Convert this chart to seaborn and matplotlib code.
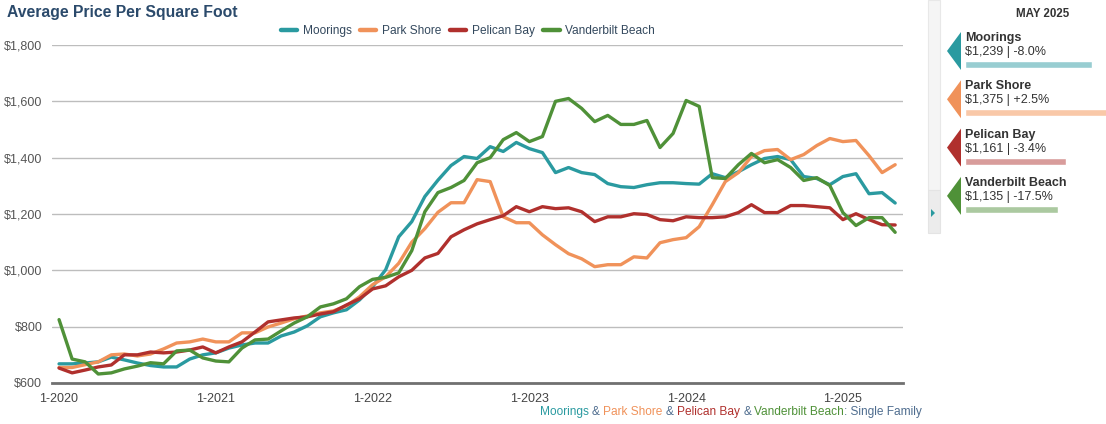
import matplotlib
matplotlib.use("Agg")
import matplotlib.pyplot as plt
from matplotlib.lines import Line2D
from matplotlib.patches import Polygon, Rectangle
import numpy as np
import pandas as pd
import seaborn as sns

# monthly average price per sq ft, Jan 2020 .. May 2025
areas = ["Moorings", "Park Shore", "Pelican Bay", "Vanderbilt Beach"]

moorings = [668, 668, 671, 675, 692, 682, 671, 662, 657, 657, 685, 700,
            707, 724, 735, 742, 742, 767, 781, 803, 835, 849, 860, 895,
            942, 1002, 1119, 1173, 1262, 1320, 1372, 1404, 1397, 1439, 1422, 1454,
            1432, 1418, 1347, 1365, 1347, 1340, 1308, 1297, 1294, 1304, 1311, 1311,
            1308, 1306, 1343, 1329, 1350, 1375, 1397, 1404, 1393, 1333, 1326, 1304,
            1333, 1343, 1272, 1276, 1239]
park_shore = [655, 655, 665, 675, 700, 703, 696, 703, 721, 742, 746, 756,
              746, 746, 778, 778, 799, 813, 828, 838, 849, 856, 874, 906,
              949, 977, 1025, 1100, 1148, 1206, 1240, 1240, 1322, 1315, 1190, 1169,
              1169, 1126, 1091, 1059, 1041, 1013, 1020, 1020, 1048, 1044, 1098, 1109,
              1116, 1155, 1233, 1315, 1347, 1404, 1425, 1429, 1393, 1411, 1443, 1468,
              1457, 1461, 1407, 1347, 1375]
pelican_bay = [653, 636, 646, 657, 664, 700, 700, 710, 707, 710, 717, 728,
               707, 728, 746, 781, 817, 824, 831, 835, 845, 853, 877, 899,
               934, 945, 977, 1000, 1044, 1060, 1119, 1144, 1165, 1180, 1194, 1226,
               1208, 1226, 1219, 1222, 1208, 1173, 1190, 1190, 1201, 1198, 1180, 1176,
               1190, 1187, 1187, 1190, 1205, 1233, 1205, 1205, 1230, 1230, 1226, 1222,
               1180, 1201, 1180, 1162, 1161]
vanderbilt = [825, 685, 675, 632, 636, 650, 660, 672, 668, 714, 717, 689,
              678, 675, 724, 753, 756, 785, 813, 835, 870, 881, 899, 942,
              968, 975, 991, 1070, 1208, 1276, 1294, 1319, 1382, 1400, 1464, 1489,
              1457, 1475, 1600, 1610, 1575, 1528, 1550, 1518, 1518, 1532, 1436, 1486,
              1603, 1582, 1329, 1326, 1375, 1415, 1382, 1393, 1365, 1319, 1329, 1301,
              1205, 1159, 1187, 1187, 1135]

year_ticks = [0, 12, 24, 36, 48, 60]
year_labels = ["1-2020", "1-2021", "1-2022", "1-2023", "1-2024", "1-2025"]
y_ticks = [600, 800, 1000, 1200, 1400, 1600, 1800]

latest_month = "MAY 2025"
latest_change = ["-8.0%", "+2.5%", "-3.4%", "-17.5%"]

colors = ["#2a9aa0", "#f0925a", "#b0302d", "#4f9138"]
light_colors = ["#98cdd1", "#f9c8a8", "#d89c9b", "#abc9a0"]
slate = "#4f6d8f"

series = [moorings, park_shore, pelican_bay, vanderbilt]
df = pd.concat([pd.DataFrame({"month": np.arange(len(s)), "price": s, "area": a})
                for a, s in zip(areas, series)], ignore_index=True)

sns.set_style("white")
plt.rcParams["font.family"] = ["Liberation Sans", "DejaVu Sans"]

W, H = 1106, 424
fig = plt.figure(figsize=(W / 100, H / 100), dpi=100)
ax = fig.add_axes([52 / W, 1 - 383 / H, (903 - 52) / W, (383 - 45) / H])

sns.lineplot(data=df, x="month", y="price", hue="area", hue_order=areas,
             palette=colors, linewidth=2.4, estimator=None, legend=False, ax=ax)

ax.set_xlim(-0.54, 64.6)
ax.set_ylim(600, 1800)
ax.set_yticks(y_ticks)
ax.set_yticklabels(["${:,}".format(v) for v in y_ticks])
ax.set_xticks(year_ticks)
ax.set_xticklabels(year_labels)
ax.set_xlabel("")
ax.set_ylabel("")
ax.grid(axis="y", color="#bdbdbd", linewidth=1.0)
ax.grid(axis="x", visible=False)
ax.set_axisbelow(True)
for side in ["top", "right", "left"]:
    ax.spines[side].set_visible(False)
ax.spines["bottom"].set_color("#707070")
ax.spines["bottom"].set_linewidth(2)
ax.spines["bottom"].set_zorder(5)
ax.tick_params(axis="y", length=0, pad=7, labelsize=9, labelcolor="#555555")
ax.tick_params(axis="x", length=4, width=1.5, color="#707070", pad=3,
               labelsize=9, labelcolor="#444444")

fig.text(7 / W, 1 - 12 / H, "Average Price Per Square Foot", fontsize=11.3,
         fontweight="bold", color="#2b4a6b", va="center", ha="left")

handles = [Line2D([0], [0], color=c, lw=3.2) for c in colors]
leg = fig.legend(handles, areas, loc="center", bbox_to_anchor=(468 / W, 1 - 31 / H),
                 ncol=4, frameon=False, fontsize=8.6, handlelength=1.35,
                 handletextpad=0.5, columnspacing=0.7, labelcolor="#34495e")

# caption with coloured area names
renderer = fig.canvas.get_renderer()
pieces = [("Moorings", colors[0], " "), ("&", slate, " "), ("Park Shore", colors[1], " "),
          ("&", slate, " "), ("Pelican Bay", colors[2], " "), ("&", slate, " "),
          ("Vanderbilt Beach", colors[3], ""), (": Single Family", slate, "")]
cap_props = dict(fontsize=8.6)


def text_width(s):
    t = fig.text(0, 0, s, **cap_props)
    w = t.get_window_extent(renderer).width
    t.remove()
    return w


full = ""
for i, (p, c, sep) in enumerate(pieces):
    full += p + (sep if i < len(pieces) - 1 else "")
x0 = 922 - text_width(full)
running = ""
for p, c, sep in pieces:
    running += p
    px = x0 + text_width(running) - text_width(p)
    fig.text(px / W, 1 - 412 / H, p, color=c, va="center", ha="left", **cap_props)
    running += sep

# side strip
fig.patches.append(Rectangle((928 / W, 1 - 190 / H), 12 / W, 190 / H, transform=fig.transFigure,
                             facecolor="#f5f5f5", edgecolor="#e8e8e8", lw=0.8))
fig.patches.append(Rectangle((928 / W, 1 - 233 / H), 12 / W, 43 / H, transform=fig.transFigure,
                             facecolor="#ececec", edgecolor="#e4e4e4", lw=0.8))
fig.patches.append(Polygon([(931 / W, 1 - 209 / H), (931 / W, 1 - 217 / H), (935 / W, 1 - 213 / H)],
                           transform=fig.transFigure, facecolor=colors[0], edgecolor="none"))

# latest month panel
pax = fig.add_axes([940 / W, 1 - 230 / H, (W - 940) / W, 230 / H])
pax.set_xlim(940, W)
pax.set_ylim(230, 0)
pax.axis("off")
pax.text(1043, 14, latest_month, fontsize=8.3, fontweight="bold", color="#333333",
         ha="center", va="center")

bax = fig.add_axes([965 / W, 1 - 230 / H, (W - 965) / W, 230 / H])
bax.set_xlim(851, 1282)
bax.set_ylim(230, 0)
bax.axis("off")

for i, (a, s) in enumerate(zip(areas, series)):
    top = 32 + 48.3 * i
    pax.add_patch(Polygon([(947, top + 19), (961, top), (961, top + 38)],
                          facecolor=colors[i], edgecolor="none"))
    pax.text(965, top + 6, a, fontsize=9, fontweight="bold", color="#333333",
             ha="left", va="center")
    pax.text(965, top + 20, "${:,} | {}".format(s[-1], latest_change[i]), fontsize=9,
             color="#333333", ha="left", va="center")
    bax.barh(top + 32.5, s[-1] - 851, left=851, height=7, color=light_colors[i])

fig.savefig("out.png", dpi=100)
